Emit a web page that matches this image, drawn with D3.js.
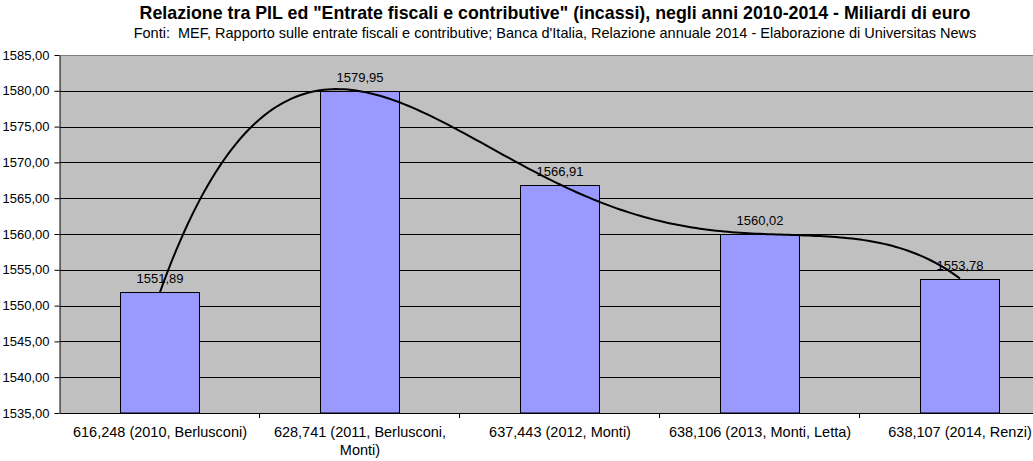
<!DOCTYPE html>
<html><head><meta charset="utf-8">
<script src="https://cdn.jsdelivr.net/npm/d3@7"></script>
<style>
html,body{margin:0;padding:0;background:#fff;}
text{font-family:"Liberation Sans",Arial,sans-serif;}
</style></head>
<body><svg id="c" width="1033" height="461"></svg>
<script>
const categories = ["616,248 (2010, Berlusconi)", "628,741 (2011, Berlusconi, Monti)", "637,443 (2012, Monti)", "638,106 (2013, Monti, Letta)", "638,107 (2014, Renzi)"];
const values = [1551.89, 1579.95, 1566.91, 1560.02, 1553.78];
const yDomain = [1535, 1585];
const yTicks = [1535,1540,1545,1550,1555,1560,1565,1570,1575,1580,1585];
const title = "Relazione tra PIL ed \"Entrate fiscali e contributive\" (incassi), negli anni 2010-2014 - Miliardi di euro";
const subtitle = "Fonti:  MEF, Rapporto sulle entrate fiscali e contributive; Banca d'Italia, Relazione annuale 2014 - Elaborazione di Universitas News";

const W = 1033, H = 461;
const m = {left: 60, top: 55, plotW: 1000, plotH: 358};
const svg = d3.select("#c");
const loc = d3.formatLocale({decimal: ",", thousands: ".", grouping: [3], currency: ["", "€"]});
const fmt = loc.format(".2f");

const x = d3.scaleBand().domain(categories).range([m.left, m.left + m.plotW]).paddingInner(0).paddingOuter(0);
const y = d3.scaleLinear().domain(yDomain).range([m.top + m.plotH, m.top]);
// continuous position scale for the trendline (category index -> band centre)
const xi = d3.scaleLinear().domain([0, categories.length - 1])
  .range([x(categories[0]) + x.bandwidth()/2, x(categories[categories.length-1]) + x.bandwidth()/2]);

svg.append("defs").append("clipPath").attr("id","clip").append("rect")
  .attr("x", m.left).attr("y", 0).attr("width", W - m.left).attr("height", H);

// title
svg.append("text").attr("x", 555).attr("y", 19).attr("text-anchor","middle")
  .style("font-size","17.8px").style("font-weight","bold").text(title);
svg.append("text").attr("x", 555).attr("y", 38).attr("text-anchor","middle")
  .style("font-size","14.5px").style("white-space","pre").attr("xml:space","preserve").text(subtitle);

// plot area
svg.append("rect").attr("x", m.left).attr("y", m.top).attr("width", m.plotW).attr("height", m.plotH)
  .attr("fill", "#c0c0c0");
svg.append("line").attr("x1", m.left).attr("x2", m.left + m.plotW).attr("y1", m.top + 0.5).attr("y2", m.top + 0.5)
  .attr("stroke", "#808080");

// gridlines
svg.append("g").selectAll("line").data(yTicks.filter(d => d !== yDomain[0] && d !== yDomain[1])).join("line")
  .attr("x1", m.left).attr("x2", m.left + m.plotW)
  .attr("y1", d => Math.round(y(d)) + 0.5).attr("y2", d => Math.round(y(d)) + 0.5)
  .attr("stroke", "#000");

// bars
svg.append("g").selectAll("rect").data(values).join("rect")
  .attr("x", (d,i) => Math.round(x(categories[i]) + x.bandwidth()*0.3) + 0.5)
  .attr("width", x.bandwidth()*0.4 - 1)
  .attr("y", d => Math.round(y(d)) + 0.5)
  .attr("height", d => y(yDomain[0]) - Math.round(y(d)) - 0.5)
  .attr("fill", "#9999ff").attr("stroke", "#000").attr("stroke-width", 1);

// polynomial (order n-1) trendline through the values, as in the spreadsheet
function lagrange(t) {
  let s = 0;
  for (let i = 0; i < values.length; i++) {
    let l = 1;
    for (let j = 0; j < values.length; j++) if (j !== i) l *= (t - j) / (i - j);
    s += values[i] * l;
  }
  return s;
}
const trend = d3.range(0, values.length - 1 + 1e-9, 0.02).map(t => [t, lagrange(t)]);
const line = d3.line().x(d => xi(d[0])).y(d => y(d[1]));
svg.append("path").datum(trend).attr("d", line).attr("fill","none").attr("stroke","#000").attr("stroke-width", 2);

// data labels
svg.append("g").selectAll("text").data(values).join("text")
  .attr("x", (d,i) => x(categories[i]) + x.bandwidth()/2)
  .attr("y", d => y(d) - 9)
  .attr("text-anchor", "middle").style("font-size","13px").attr("fill","#000")
  .text(d => fmt(d));

// y axis
const yAxis = svg.append("g").attr("transform", `translate(${m.left - 0.5},0)`)
  .call(d3.axisLeft(y).tickValues(yTicks).tickSize(5).tickSizeOuter(0).tickFormat(fmt));
yAxis.select(".domain").attr("stroke","#000");
yAxis.selectAll("text").style("font-size","13px").style("font-family","'Liberation Sans',Arial,sans-serif").attr("fill","#000").attr("x",-10);

// x axis
const xg = svg.append("g").attr("clip-path","url(#clip)");
xg.append("line").attr("x1", m.left).attr("x2", m.left + m.plotW)
  .attr("y1", m.top + m.plotH + 0.5).attr("y2", m.top + m.plotH + 0.5).attr("stroke","#000");
const edges = categories.map(c => x(c)).concat([x(categories[categories.length-1]) + x.bandwidth()]);
xg.selectAll("line.t").data(edges).join("line").attr("class","t")
  .attr("x1", d => d - 0.5).attr("x2", d => d - 0.5)
  .attr("y1", m.top + m.plotH).attr("y2", m.top + m.plotH + 5).attr("stroke","#000");

const xl = svg.append("g");
categories.forEach((c, i) => {
  const cx = x(c) + x.bandwidth()/2;
  const t = xl.append("text").attr("x", cx).attr("y", 437).attr("text-anchor","middle").style("font-size","14.5px");
  const words = c.split(" ");
  let lines = [], cur = "";
  const probe = svg.append("text").style("font-size","14.5px");
  words.forEach(w => {
    const test = cur ? cur + " " + w : w;
    probe.text(test);
    if (probe.node().getComputedTextLength() > 192 && cur) { lines.push(cur); cur = w; } else cur = test;
  });
  lines.push(cur);
  probe.remove();
  lines.forEach((ln, k) => t.append("tspan").attr("x", cx).attr("y", 437 + k*18).text(ln));
});
</script></body></html>
